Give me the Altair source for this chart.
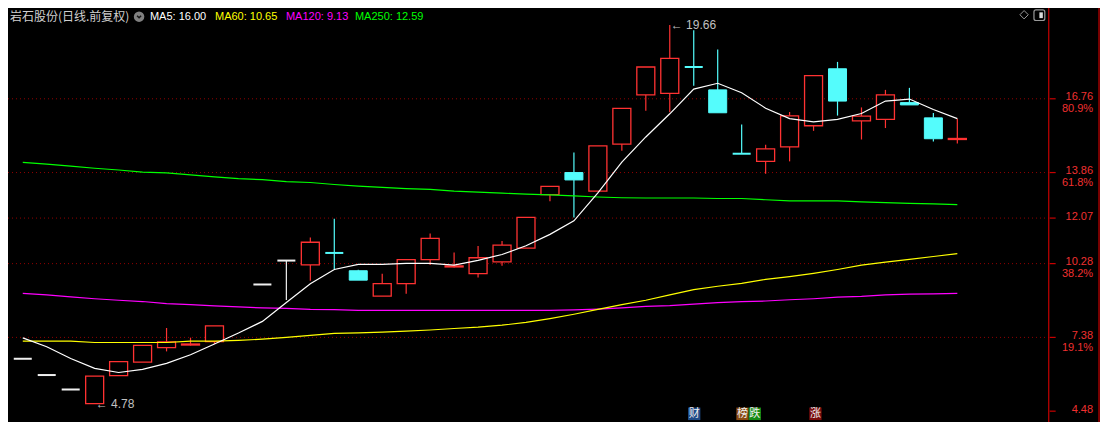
import altair as alt
import pandas as pd

# ---------------- data ----------------
candle_idx = [0, 1, 2, 3, 4, 5, 6, 7, 8, 10, 11, 12, 13, 14, 15, 16, 17, 18, 19,
              20, 21, 22, 23, 24, 25, 26, 27, 28, 29, 30, 31, 32, 33, 34, 35, 36, 37, 38, 39]
opens = [6.54, 5.90, 5.33, 4.78, 5.88, 6.41, 6.98, 7.08, 7.21, 9.46, 10.40, 10.23, 10.70,
         10.00, 9.00, 9.49, 10.44, 10.15, 9.89, 10.35, 10.89, 12.99, 13.86, 13.13, 14.98,
         16.91, 16.97, 18.01, 17.11, 14.60, 14.30, 14.87, 15.70, 17.94, 15.89, 15.95, 16.61,
         16.01, 15.16]
closes = [6.54, 5.90, 5.33, 5.86, 6.43, 7.07, 7.20, 7.12, 7.83, 9.46, 10.40, 11.12, 10.70,
          9.63, 9.49, 10.44, 11.27, 10.19, 10.51, 11.01, 12.10, 13.32, 13.57, 14.91, 16.38,
          18.01, 18.35, 18.01, 16.21, 14.60, 14.79, 16.09, 17.67, 16.67, 16.08, 16.91, 16.52,
          15.19, 15.20]
highs = [6.54, 5.90, 5.33, 5.86, 6.43, 7.07, 7.75, 7.37, 7.83, 9.46, 10.40, 11.31, 12.04,
         10.04, 9.88, 10.44, 11.46, 10.72, 10.97, 11.17, 12.10, 13.32, 14.65, 14.91, 16.38,
         18.01, 19.66, 19.45, 18.70, 15.75, 14.95, 16.24, 17.67, 18.21, 16.42, 17.11, 17.19,
         16.20, 15.98]
lows = [6.54, 5.90, 5.33, 4.78, 5.88, 6.41, 6.83, 7.06, 7.12, 9.46, 8.85, 9.61, 10.07,
        9.63, 9.00, 9.10, 10.23, 10.13, 9.73, 10.20, 10.89, 12.73, 12.09, 13.13, 14.72,
        16.29, 16.23, 17.27, 16.21, 14.60, 13.81, 14.30, 15.50, 16.10, 15.16, 15.61, 16.52,
        15.08, 15.00]
kinds = ["flat", "flat", "flat", "up", "up", "up", "up", "up", "up",
         "flat", "flat", "up", "down", "down", "up", "up", "up", "up", "up",
         "up", "up", "up", "down", "up", "up", "up", "up", "down", "down",
         "down", "up", "up", "up", "down", "up", "up", "down", "down", "up"]

ma_idx = list(range(40))
ma5 = [7.36, 7.01, 6.55, 6.16, 6.00, 6.12, 6.36, 6.70, 7.12, 7.55,
       8.01, 8.75, 9.49, 10.05, 10.25, 10.25, 10.29, 10.29, 10.22, 10.41,
       10.64, 10.98, 11.43, 11.96, 13.06, 14.27, 15.26, 16.17, 17.14, 17.37,
       17.00, 16.39, 15.98, 15.85, 15.95, 16.18, 16.67, 16.75, 16.34, 15.98]
ma60 = [7.23, 7.23, 7.23, 7.18, 7.18, 7.18, 7.18, 7.23, 7.23, 7.26,
        7.31, 7.38, 7.46, 7.54, 7.56, 7.59, 7.63, 7.67, 7.73, 7.78,
        7.86, 7.97, 8.12, 8.29, 8.48, 8.67, 8.84, 9.05, 9.26, 9.39,
        9.50, 9.66, 9.77, 9.90, 10.05, 10.22, 10.34, 10.45, 10.56, 10.67]
ma120 = [9.11, 9.05, 8.97, 8.90, 8.84, 8.79, 8.71, 8.67, 8.62, 8.58,
         8.54, 8.52, 8.48, 8.47, 8.44, 8.44, 8.44, 8.44, 8.44, 8.44,
         8.44, 8.44, 8.44, 8.46, 8.49, 8.54, 8.60, 8.63, 8.69, 8.75,
         8.79, 8.81, 8.86, 8.90, 8.96, 8.99, 9.05, 9.08, 9.09, 9.11]
ma250 = [14.26, 14.19, 14.11, 14.03, 13.96, 13.88, 13.85, 13.77, 13.69, 13.62,
         13.58, 13.50, 13.47, 13.39, 13.33, 13.28, 13.23, 13.20, 13.13, 13.09,
         13.05, 13.01, 12.98, 12.94, 12.90, 12.87, 12.86, 12.86, 12.86, 12.84,
         12.84, 12.79, 12.75, 12.75, 12.75, 12.71, 12.68, 12.65, 12.63, 12.60]

axis_prices = [16.76, 13.86, 12.07, 10.28, 7.38, 4.48]
axis_labels = ["16.76", "13.86", "12.07", "10.28", "7.38", "4.48"]
pct_prices = [16.76, 13.86, 10.28, 7.38]
pct_labels = ["80.9%", "61.8%", "38.2%", "19.1%"]
grid_prices = [16.76, 13.86, 12.07, 10.28, 7.38]

title_text = "岩石股份(日线.前复权)"
ma_texts = ["MA5: 16.00", "MA60: 10.65", "MA120: 9.13", "MA250: 12.59"]
mark_idx = [27, 3]
mark_vals = [19.66, 4.78]
mark_texts = ["19.66", "4.78"]

# ---------------- layout ----------------
W, H = 1092, 414
SX, SY = W / 1108, H / 430


def px(v):
    return v * SX


def py(v):
    return v * SY


RED = "#FF3232"
CYAN = "#54FCFC"
WHITE = "#F0F0F0"
AXRED = "#F03030"
AXLINE = "#C80000"
GRID = "#900000"
GRAY = "#C0C0C0"
FONT = "Liberation Sans"
CJK = "Noto Sans CJK SC"

xs = alt.Scale(domain=[-0.4077, 44.745], nice=False, zero=False)
ys = alt.Scale(domain=[4.054, 20.329], nice=False, zero=False)

cdf = pd.DataFrame({"i": candle_idx, "o": opens, "c": closes, "h": highs, "l": lows, "kind": kinds})
cdf["top"] = cdf[["o", "c"]].max(axis=1)
cdf["bot"] = cdf[["o", "c"]].min(axis=1)
madf = pd.DataFrame({"i": ma_idx, "ma5": ma5, "ma60": ma60, "ma120": ma120, "ma250": ma250})
axdf = pd.DataFrame({"p": axis_prices, "t": axis_labels})
pcdf = pd.DataFrame({"p": pct_prices, "t": pct_labels})
grdf = pd.DataFrame({"p": grid_prices})
mkdf = pd.DataFrame({"i": mark_idx, "p": mark_vals, "t": mark_texts})
one = pd.DataFrame({"d": [0]})

X = alt.X("i:Q", scale=xs, axis=None)


def Yf(f):
    return alt.Y(f"{f}:Q", scale=ys, axis=None)


def Y2f(f):
    return alt.Y2(f"{f}:Q")


layers = []

# dotted grid
layers.append(alt.Chart(grdf).mark_rule(color=GRID, strokeDash=[1, 3], strokeWidth=1).encode(
    y=Yf("p"), x=alt.value(0), x2=alt.value(px(1056))))

colors = {"up": RED, "down": CYAN, "flat": WHITE}
base = alt.Chart(cdf)
for k, col in colors.items():
    kf = f"datum.kind == '{k}'"
    layers.append(base.transform_filter(kf + " && datum.h > datum.top").mark_rule(
        color=col, strokeWidth=1.2).encode(x=X, y=Yf("top"), y2=Y2f("h")))
    layers.append(base.transform_filter(kf + " && datum.l < datum.bot").mark_rule(
        color=col, strokeWidth=1.2).encode(x=X, y=Yf("bot"), y2=Y2f("l")))
    layers.append(base.transform_filter(kf + " && datum.o == datum.c").mark_tick(
        orient="horizontal", size=18, thickness=2, color=col, opacity=1).encode(x=X, y=Yf("o")))

layers.append(base.transform_filter("datum.kind == 'up' && datum.o != datum.c").mark_bar(
    size=18, fill="#000000", stroke=RED, strokeWidth=1.3).encode(x=X, y=Yf("o"), y2=Y2f("c")))
layers.append(base.transform_filter("datum.kind == 'down' && datum.o != datum.c").mark_bar(
    size=18, fill=CYAN, stroke=CYAN, strokeWidth=1).encode(x=X, y=Yf("o"), y2=Y2f("c")))

# moving averages
for f, col in [("ma250", "#00FF00"), ("ma120", "#FF00FF"), ("ma60", "#FFFF00"), ("ma5", "#FFFFFF")]:
    layers.append(alt.Chart(madf).mark_line(color=col, strokeWidth=1.2).encode(x=X, y=Yf(f)))

# high / low annotations
layers.append(alt.Chart(mkdf).mark_text(align="left", baseline="middle", dx=1, color=GRAY,
                                        font=FONT, fontSize=12).encode(
    x=X, y=Yf("p"), text=alt.Text("t:N")).transform_calculate(t="'← ' + datum.t"))

# right axis
layers.append(alt.Chart(one).mark_rule(color=AXLINE, strokeWidth=1.2).encode(
    x=alt.value(px(1056)), y=alt.value(0), y2=alt.value(H)))
layers.append(alt.Chart(one).mark_rule(color=AXLINE, strokeWidth=1.2).encode(
    x=alt.value(px(1107)), y=alt.value(0), y2=alt.value(H)))
layers.append(alt.Chart(axdf).mark_rule(color=AXLINE, strokeWidth=1.2).encode(
    y=Yf("p"), x=alt.value(px(1057)), x2=alt.value(px(1063))))
layers.append(alt.Chart(axdf).mark_text(align="right", baseline="middle", color=AXRED,
                                        font=FONT, fontSize=11, dy=-1.5).encode(
    y=Yf("p"), x=alt.value(px(1101)), text="t:N"))
layers.append(alt.Chart(pcdf).mark_text(align="right", baseline="middle", color=AXRED,
                                        font=FONT, fontSize=11, dy=10.5).encode(
    y=Yf("p"), x=alt.value(px(1101)), text="t:N"))

# header
layers.append(alt.Chart(one).mark_text(align="left", baseline="middle", color="#D0D0D0",
                                       font=CJK, fontSize=12, text=title_text).encode(
    x=alt.value(px(2)), y=alt.value(py(9))))
layers.append(alt.Chart(one).mark_point(shape="circle", filled=True, color="#808080", size=110,
                                        opacity=1).encode(x=alt.value(px(133)), y=alt.value(py(9))))
layers.append(alt.Chart(one).mark_point(shape="M-0.6,-0.3L0,0.3L0.6,-0.3", filled=False,
                                        color="#151515", strokeWidth=1.5, size=45, opacity=1).encode(
    x=alt.value(px(133)), y=alt.value(py(9))))
for txt, xpos, col in zip(ma_texts, [144, 210, 282, 352],
                          ["#FFFFFF", "#FFFF00", "#FF00FF", "#00FF00"]):
    layers.append(alt.Chart(one).mark_text(align="left", baseline="middle", color=col,
                                           font=FONT, fontSize=11, text=txt).encode(
        x=alt.value(px(xpos)), y=alt.value(py(9))))

# top-right icons
layers.append(alt.Chart(one).mark_point(shape="diamond", filled=False, color="#9A9A9A",
                                        size=70, strokeWidth=1, opacity=1).encode(
    x=alt.value(px(1031)), y=alt.value(py(7))))
layers.append(alt.Chart(one).mark_rect(fill="#000000", stroke="#9A9A9A", strokeWidth=1.2,
                                       cornerRadius=2).encode(
    x=alt.value(px(1041)), x2=alt.value(px(1052)), y=alt.value(py(2)), y2=alt.value(py(13))))
layers.append(alt.Chart(one).mark_rect(fill="#DADADA").encode(
    x=alt.value(px(1046.5)), x2=alt.value(px(1050)), y=alt.value(py(4.5)), y2=alt.value(py(10.5))))

# bottom badges
for txt, x0, bg in [("财", 690, "#1E4A86"), ("榜", 739, "#8A4A12"), ("跌", 751.5, "#168A16"),
                    ("涨", 813, "#7A0C0C")]:
    layers.append(alt.Chart(one).mark_rect(fill=bg).encode(
        x=alt.value(px(x0)), x2=alt.value(px(x0 + 12.5)), y=alt.value(py(415)), y2=alt.value(py(428))))
    layers.append(alt.Chart(one).mark_text(align="center", baseline="middle", color="#F0F0F0",
                                           font=CJK, fontSize=11, text=txt).encode(
        x=alt.value(px(x0 + 6.25)), y=alt.value(py(421.5))))

chart = alt.layer(*layers).properties(
    width=W, height=H, padding=0, autosize="none", background="#000000"
).configure_view(stroke=None)

chart.save("out.html", embed_options={"renderer": "svg", "actions": False})
